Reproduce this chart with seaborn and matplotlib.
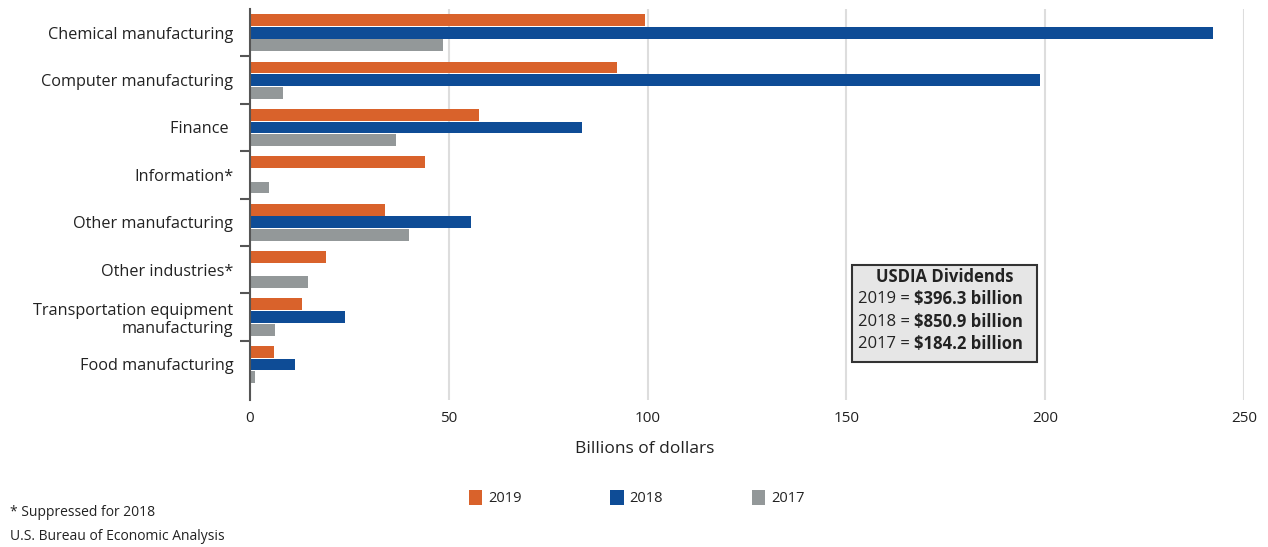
import numpy as np
import pandas as pd
import matplotlib
matplotlib.use("Agg")
import matplotlib.pyplot as plt
from matplotlib.patches import Patch, Rectangle
from matplotlib.ticker import FixedLocator
import seaborn as sns

# Dividends on U.S. direct investment abroad, by industry (billions of dollars)
industries = [
    "Chemical manufacturing",
    "Computer manufacturing",
    "Finance ",
    "Information*",
    "Other manufacturing",
    "Other industries*",
    "Transportation equipment\nmanufacturing",
    "Food manufacturing",
]
years = ["2019", "2018", "2017"]
values_2019 = [99.4, 92.2, 57.5, 44.1, 33.9, 19.1, 13.0, 6.1]
values_2018 = [242.2, 198.8, 83.6, np.nan, 55.6, np.nan, 23.8, 11.3]  # suppressed values left empty
values_2017 = [48.6, 8.4, 36.7, 4.9, 40.0, 14.5, 6.3, 1.3]
totals = ["$396.3 billion", "$850.9 billion", "$184.2 billion"]
x_ticks = [0, 50, 100, 150, 200, 250]

colors = {"2019": "#D9622B", "2018": "#0E4C96", "2017": "#939899"}

df = pd.DataFrame({
    "industry": industries * 3,
    "year": ["2019"] * 8 + ["2018"] * 8 + ["2017"] * 8,
    "value": values_2019 + values_2018 + values_2017,
})

sns.set_theme(style="white")
plt.rcParams["font.family"] = ["Open Sans", "DejaVu Sans"]

fig = plt.figure(figsize=(12.68, 5.47), dpi=100)
ax = fig.add_axes([250 / 1268, 1 - 400 / 547, (1244 - 250) / 1268, (400 - 9) / 547])

sns.barplot(data=df, y="industry", x="value", hue="year", hue_order=years,
            order=industries, palette=colors, orient="h", width=0.8, gap=0.06,
            saturation=1, legend=False, ax=ax, linewidth=0)

ax.set_xlim(0, 250)
ax.set_ylim(7.75, -0.5)
ax.set_xticks(x_ticks)
ax.set_xticklabels([str(t) for t in x_ticks], fontsize=11, color="#222222")
ax.set_axisbelow(True)
ax.grid(axis="x", color="#dddddd", linewidth=1.5)
ax.grid(axis="y", visible=False)
for side in ["top", "right", "bottom"]:
    ax.spines[side].set_visible(False)
ax.spines["left"].set_color("#555555")
ax.spines["left"].set_linewidth(1.5)

ax.set_yticks(range(len(industries)))
ax.set_yticklabels(industries, fontsize=11.7, color="#222222", linespacing=1.15)
ax.yaxis.set_minor_locator(FixedLocator(np.arange(0.5, len(industries) - 1, 1.0)))
ax.tick_params(axis="y", which="major", length=0, pad=12)
ax.tick_params(axis="y", which="minor", length=7, width=1.5, color="#555555",
               direction="out", left=True)
ax.tick_params(axis="x", length=0, pad=8)
ax.set_xlabel("")
ax.set_ylabel("")

fig.text(645 / 1268, 1 - 449 / 547, "Billions of dollars", ha="center", va="center",
         fontsize=12.5, color="#222222")

# Totals box
box = Rectangle((852 / 1268, 1 - 362 / 547), (1037 - 852) / 1268, (362 - 265) / 547,
                transform=fig.transFigure, facecolor="#e6e6e6", edgecolor="#333333",
                linewidth=1.5, zorder=5)
fig.add_artist(box)
fig.text(945 / 1268, 1 - 277 / 547, "USDIA Dividends", ha="center", va="center",
         fontsize=12, fontweight="bold", color="#222222", zorder=6)
for i, (yr, tot) in enumerate(zip(years, totals)):
    y = 1 - (299 + i * 22.5) / 547
    t = fig.text(858 / 1268, y, f"{yr} = ", ha="left", va="center", fontsize=12,
                 color="#222222", zorder=6)
    fig.add_artist(plt.Annotation(tot, xy=(1, 0.5), xycoords=t, va="center", ha="left",
                                  fontsize=12, fontweight="bold", color="#222222",
                                  zorder=6))

# Legend
handles = [Patch(facecolor=colors[y], edgecolor="none", label=y) for y in years]
fig.legend(handles=handles, loc="center left", bbox_to_anchor=(469 / 1268, 1 - 498 / 547),
           ncol=3, frameon=False, fontsize=10.5, handlelength=0.9, handleheight=1.2,
           handletextpad=0.4, columnspacing=6.1, borderaxespad=0, borderpad=0,
           labelcolor="#222222")

fig.text(10 / 1268, 1 - 513 / 547, "* Suppressed for 2018", ha="left", va="center",
         fontsize=10, color="#222222")
fig.text(10 / 1268, 1 - 537 / 547, "U.S. Bureau of Economic Analysis", ha="left",
         va="center", fontsize=10, color="#222222")

fig.savefig("out.png", dpi=100)
